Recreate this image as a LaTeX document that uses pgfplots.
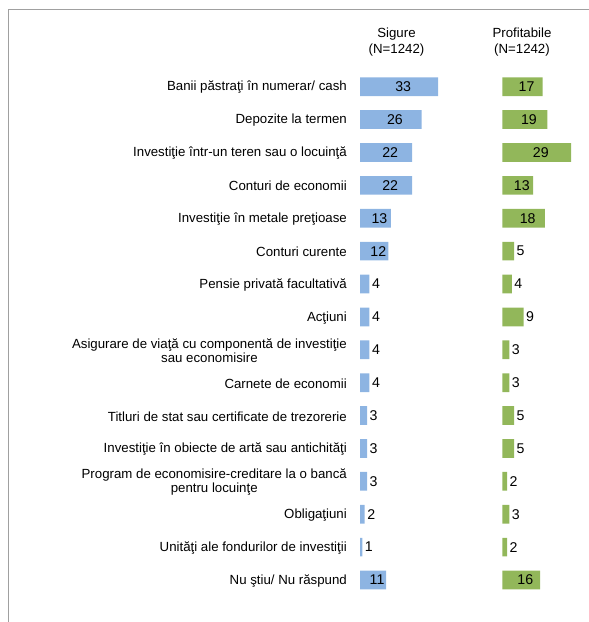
\documentclass[border=0pt]{standalone}
\usepackage{pgfplots}
\pgfplotsset{compat=1.18}
\usepackage{fontspec}
\setmainfont{Liberation Sans}

\definecolor{sigblue}{RGB}{141,180,226}
\definecolor{profgreen}{RGB}{146,183,90}
\definecolor{framegray}{RGB}{160,160,160}

\newcommand{\lblfont}{\fontsize{13.3}{14.6}\selectfont}
\newcommand{\hdrfont}{\fontsize{13.3}{16}\selectfont}
\newcommand{\numfont}{\fontsize{14.2}{16}\selectfont}

\pgfplotsset{
  panel/.style={
    xbar, scale only axis,
    width=94.8bp, height=526.2bp,
    xmin=0, xmax=40, ymin=-0.5, ymax=15.5, y dir=reverse,
    bar width=18.7bp, clip=false,
    axis line style={draw=none}, major tick length=0pt,
    xtick=\empty, ytick=\empty,
    point meta=x,
    visualization depends on={x \as \vx},
    nodes near coords,
    /pgf/number format/assume math mode=true,
    every node near coord/.append style={font=\numfont, inner sep=0pt, anchor=center,
      xshift={\vx<10 ? 6.5 : -1.185*\vx+4}},
  },
}

\begin{document}
\begin{tikzpicture}
\useasboundingbox (0,0) rectangle (589bp,622bp);
\draw[framegray, line width=1bp] (8.5bp,0) -- (8.5bp,612.5bp) -- (589bp,612.5bp);

% Sigure
\begin{axis}[panel, at={(360bp,25.55bp)}, anchor=south west,
    ytick={0,...,15},
    yticklabel style={font=\lblfont, align=center, inner sep=0pt, xshift=-13bp, yshift=-0.8bp},
    yticklabels={
      Banii păstraţi în numerar/ cash,
      Depozite la termen,
      Investiţie într-un teren sau o locuinţă,
      Conturi de economii,
      Investiţie în metale preţioase,
      Conturi curente,
      Pensie privată facultativă,
      Acţiuni,
      {Asigurare de viaţă cu componentă de investiţie\\sau economisire},
      Carnete de economii,
      Titluri de stat sau certificate de trezorerie,
      Investiţie în obiecte de artă sau antichităţi,
      {Program de economisire-creditare la o bancă\\pentru locuinţe},
      Obligaţiuni,
      Unităţi ale fondurilor de investiţii,
      Nu ştiu/ Nu răspund},
  ]
  \addplot[fill=sigblue, draw=none] coordinates {
    (33,0) (26,1) (22,2) (22,3) (13,4) (12,5) (4,6) (4,7)
    (4,8) (4,9) (3,10) (3,11) (3,12) (2,13) (1,14) (11,15)};
  \node[font=\hdrfont, align=center] at (axis cs:15.4,-1.36) {Sigure\\(N=1242)};
\end{axis}

% Profitabile
\begin{axis}[panel, at={(502.3bp,25.55bp)}, anchor=south west]
  \addplot[fill=profgreen, draw=none] coordinates {
    (17,0) (19,1) (29,2) (13,3) (18,4) (5,5) (4,6) (9,7)
    (3,8) (3,9) (5,10) (5,11) (2,12) (3,13) (2,14) (16,15)};
  \node[font=\hdrfont, align=center] at (axis cs:8.3,-1.36) {Profitabile\\(N=1242)};
\end{axis}
\end{tikzpicture}
\end{document}
